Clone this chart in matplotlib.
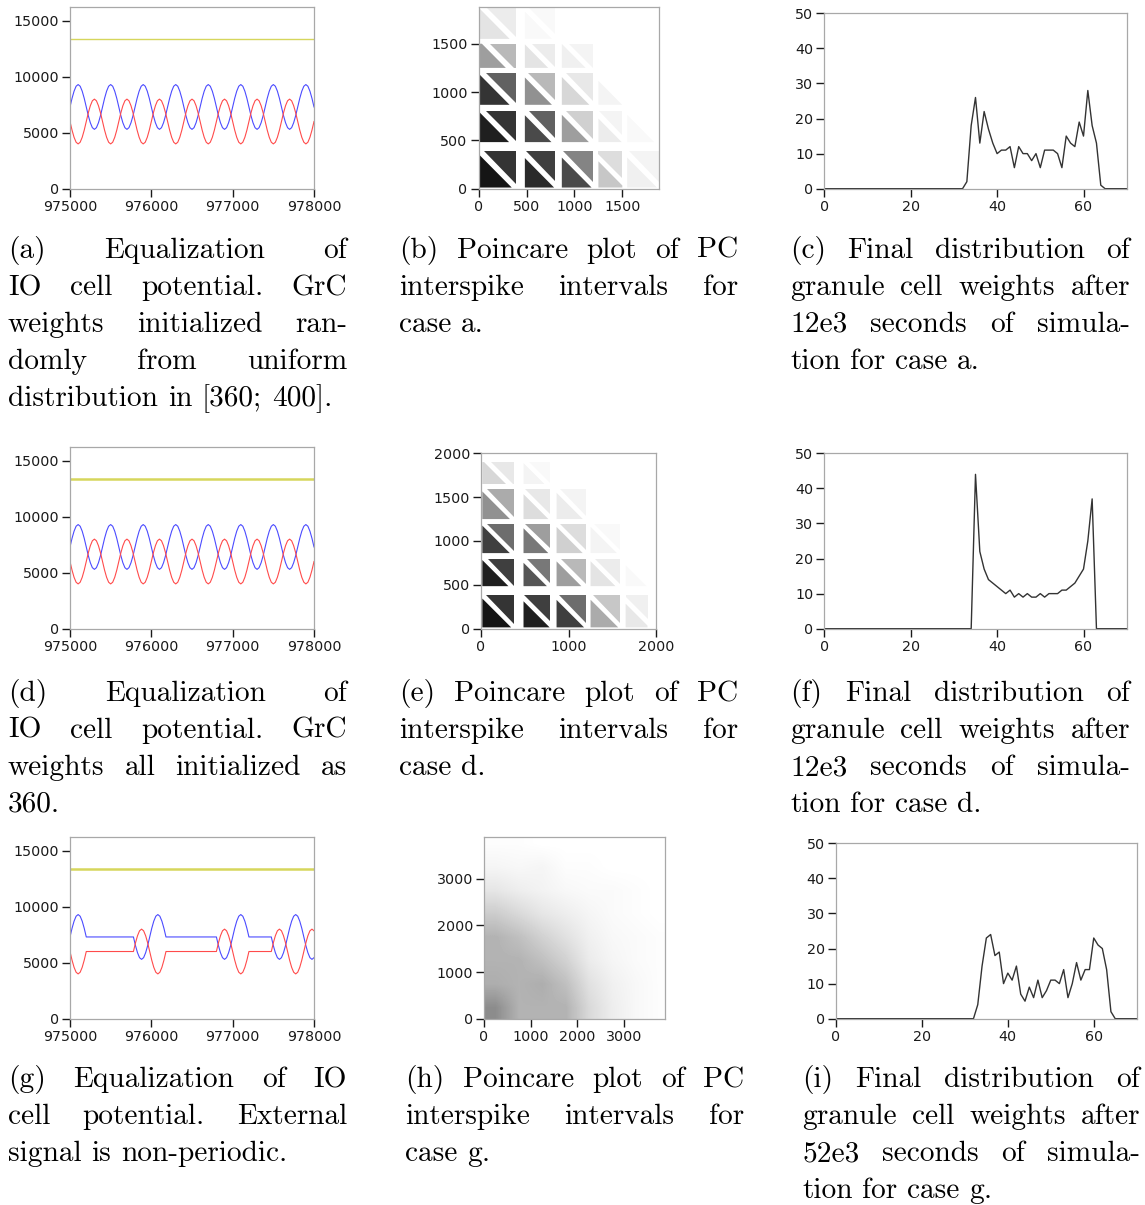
import numpy as np
import matplotlib
matplotlib.use('Agg')
import matplotlib.pyplot as plt
from matplotlib.ticker import FuncFormatter
from matplotlib.patches import Polygon

# ---------------- data ----------------
# IO cell potential, cases a and d (periodic signal), sampled every 25 time units
t_ad = np.arange(975000, 978001, 25)
blue_ad = [
    7300, 8070, 8710, 9150, 9300, 9150, 8710, 8070, 7300, 6530, 5890, 5450, 5300, 5450, 5890, 6530,
    7300, 8070, 8710, 9150, 9300, 9150, 8710, 8070, 7300, 6530, 5890, 5450, 5300, 5450, 5890, 6530,
    7300, 8070, 8710, 9150, 9300, 9150, 8710, 8070, 7300, 6530, 5890, 5450, 5300, 5450, 5890, 6530,
    7300, 8070, 8710, 9150, 9300, 9150, 8710, 8070, 7300, 6530, 5890, 5450, 5300, 5450, 5890, 6530,
    7300, 8070, 8710, 9150, 9300, 9150, 8710, 8070, 7300, 6530, 5890, 5450, 5300, 5450, 5890, 6530,
    7300, 8070, 8710, 9150, 9300, 9150, 8710, 8070, 7300, 6530, 5890, 5450, 5300, 5450, 5890, 6530,
    7300, 8070, 8710, 9150, 9300, 9150, 8710, 8070, 7300, 6530, 5890, 5450, 5300, 5450, 5890, 6530,
    7300, 8070, 8710, 9150, 9300, 9150, 8710, 8070, 7300]
red_ad = [
    6000, 5230, 4590, 4150, 4000, 4150, 4590, 5230, 6000, 6770, 7410, 7850, 8000, 7850, 7410, 6770,
    6000, 5230, 4590, 4150, 4000, 4150, 4590, 5230, 6000, 6770, 7410, 7850, 8000, 7850, 7410, 6770,
    6000, 5230, 4590, 4150, 4000, 4150, 4590, 5230, 6000, 6770, 7410, 7850, 8000, 7850, 7410, 6770,
    6000, 5230, 4590, 4150, 4000, 4150, 4590, 5230, 6000, 6770, 7410, 7850, 8000, 7850, 7410, 6770,
    6000, 5230, 4590, 4150, 4000, 4150, 4590, 5230, 6000, 6770, 7410, 7850, 8000, 7850, 7410, 6770,
    6000, 5230, 4590, 4150, 4000, 4150, 4590, 5230, 6000, 6770, 7410, 7850, 8000, 7850, 7410, 6770,
    6000, 5230, 4590, 4150, 4000, 4150, 4590, 5230, 6000, 6770, 7410, 7850, 8000, 7850, 7410, 6770,
    6000, 5230, 4590, 4150, 4000, 4150, 4590, 5230, 6000]
yellow_level = 13330

# case g (non-periodic signal): oscillation bursts separated by plateaus
t_g = np.concatenate([np.arange(975000, 975201, 25), np.arange(975780, 976181, 25),
                      np.arange(976800, 977201, 25), np.arange(977475, 978001, 25)])
blue_g = [7300, 8070, 8710, 9150, 9300, 9150, 8710, 8070, 7300,
          7300, 6530, 5890, 5450, 5300, 5450, 5890, 6530, 7300, 8070, 8710, 9150, 9300, 9150, 8710, 8070, 7300,
          7300, 6530, 5890, 5450, 5300, 5450, 5890, 6530, 7300, 8070, 8710, 9150, 9300, 9150, 8710, 8070, 7300,
          7300, 6530, 5890, 5450, 5300, 5450, 5890, 6530, 7300, 8070, 8710, 9150, 9300, 9150, 8710, 8070, 7300,
          6530, 5890, 5450, 5300, 5450]
red_g = [6000, 5230, 4590, 4150, 4000, 4150, 4590, 5230, 6000,
         6000, 6770, 7410, 7850, 8000, 7850, 7410, 6770, 6000, 5230, 4590, 4150, 4000, 4150, 4590, 5230, 6000,
         6000, 6770, 7410, 7850, 8000, 7850, 7410, 6770, 6000, 5230, 4590, 4150, 4000, 4150, 4590, 5230, 6000,
         6000, 6770, 7410, 7850, 8000, 7850, 7410, 6770, 6000, 5230, 4590, 4150, 4000, 4150, 4590, 5230, 6000,
         6770, 7410, 7850, 8000, 7850]

# Poincare plots (b, e): ISI clusters and point density (0..1) of the two triangles of each block
b_bands = [(12, 385), (482, 800), (868, 1196), (1250, 1500), (1550, 1880)]
b_lower = [[0.90, 0.80, 0.65, 0.15, 0.03],
           [0.85, 0.65, 0.30, 0.04, 0.01],
           [0.75, 0.35, 0.10, 0.02, 0.00],
           [0.30, 0.06, 0.03, 0.00, 0.00],
           [0.06, 0.01, 0.00, 0.00, 0.00]]
b_upper = [[0.75, 0.70, 0.40, 0.08, 0.02],
           [0.75, 0.55, 0.12, 0.02, 0.00],
           [0.55, 0.20, 0.05, 0.00, 0.00],
           [0.20, 0.04, 0.02, 0.00, 0.00],
           [0.04, 0.01, 0.00, 0.00, 0.00]]
e_bands = [(15, 382), (485, 790), (862, 1199), (1250, 1590), (1650, 1900)]
e_lower = [[0.90, 0.85, 0.70, 0.25, 0.05],
           [0.85, 0.60, 0.30, 0.06, 0.01],
           [0.70, 0.45, 0.12, 0.02, 0.00],
           [0.35, 0.08, 0.04, 0.00, 0.00],
           [0.10, 0.02, 0.00, 0.00, 0.00]]
e_upper = [[0.75, 0.70, 0.50, 0.15, 0.03],
           [0.70, 0.45, 0.20, 0.04, 0.00],
           [0.50, 0.30, 0.08, 0.01, 0.00],
           [0.25, 0.05, 0.02, 0.00, 0.00],
           [0.05, 0.01, 0.00, 0.00, 0.00]]

# Poincare plot (h): density grid, 500-unit cells, rows = ISI_{n+1}, cols = ISI_n
h_density = [[0.45, 0.30, 0.30, 0.30, 0.15, 0.07, 0.03, 0.01],
             [0.32, 0.30, 0.32, 0.25, 0.12, 0.06, 0.03, 0.01],
             [0.30, 0.30, 0.25, 0.18, 0.08, 0.04, 0.02, 0.01],
             [0.30, 0.25, 0.18, 0.12, 0.06, 0.03, 0.02, 0.01],
             [0.20, 0.15, 0.10, 0.07, 0.04, 0.02, 0.01, 0.00],
             [0.10, 0.07, 0.05, 0.03, 0.02, 0.02, 0.01, 0.00],
             [0.04, 0.03, 0.04, 0.01, 0.01, 0.00, 0.00, 0.00],
             [0.01, 0.01, 0.00, 0.00, 0.00, 0.00, 0.00, 0.00]]

# Final distributions of granule cell weights
w_bins = list(range(0, 71))
hist_c = [0] * 32 + [0, 2, 18, 26, 13, 22, 17, 13, 10, 11, 11, 12, 6, 12, 10, 10, 8, 10, 6, 11,
                     11, 11, 10, 6, 15, 13, 12, 19, 15, 28, 18, 13, 1, 0] + [0] * 5
hist_f = [0] * 34 + [0, 44, 22, 17, 14, 13, 12, 11, 10, 11, 9, 10, 9, 10, 9, 9, 10, 9, 10, 10,
                     10, 11, 11, 12, 13, 15, 17, 25, 37, 0] + [0] * 7
hist_i = [0] * 32 + [0, 4, 15, 23, 24, 18, 19, 10, 13, 11, 15, 7, 5, 9, 6, 11, 6, 8, 11, 11,
                     10, 14, 6, 10, 16, 11, 14, 14, 23, 21, 20, 14, 2, 0] + [0] * 5

captions = {
    'a': (8, 347, 258, ["(a) Equalization of", "IO cell potential. GrC", "weights initialized ran-",
                        "domly from uniform", "distribution in [360; 400]."]),
    'b': (399, 738, 258, ["(b) Poincare plot of PC", "interspike intervals for", "case a."]),
    'c': (790, 1130, 258, ["(c) Final distribution of", "granule cell weights after",
                           "12e3 seconds of simula-", "tion for case a."]),
    'd': (8, 347, 701, ["(d) Equalization of", "IO cell potential. GrC", "weights all initialized as", "360."]),
    'e': (399, 738, 701, ["(e) Poincare plot of PC", "interspike intervals for", "case d."]),
    'f': (790, 1130, 701, ["(f) Final distribution of", "granule cell weights after",
                           "12e3 seconds of simula-", "tion for case d."]),
    'g': (8, 347, 1087, ["(g) Equalization of IO", "cell potential. External", "signal is non-periodic."]),
    'h': (405, 744, 1087, ["(h) Poincare plot of PC", "interspike intervals for", "case g."]),
    'i': (802, 1140, 1087, ["(i) Final distribution of", "granule cell weights after",
                            "52e3 seconds of simula-", "tion for case g."]),
}

# ---------------- layout / style ----------------
W, H = 1145, 1205
fig = plt.figure(figsize=(W / 100, H / 100), dpi=100)
renderer = fig.canvas.get_renderer()

BLUE, RED, YELLOW = '#4b4bff', '#ff4b4b', '#d6d65c'
FRAME = '#a8a8a8'


def add_ax(l, t, r, b):
    return fig.add_axes([l / W, 1 - b / H, (r - l) / W, (b - t) / H])


def style(ax, xt, yt, xlim, ylim):
    ax.set_xlim(*xlim)
    ax.set_ylim(*ylim)
    ax.set_xticks(xt)
    ax.set_yticks(yt)
    fmt = FuncFormatter(lambda v, p: f"{int(round(v))}")
    ax.xaxis.set_major_formatter(fmt)
    ax.yaxis.set_major_formatter(fmt)
    for s in ax.spines.values():
        s.set_color(FRAME)
        s.set_linewidth(0.9)
    ax.tick_params(direction='out', length=6, width=1.0, color='#1a1a1a',
                   labelsize=10.3, pad=2, labelcolor='#1a1a1a', top=False, right=False)


def clip_half(poly, s, below):
    out = []
    n = len(poly)
    for k in range(n):
        p, q = poly[k], poly[(k + 1) % n]
        fp, fq = p[0] + p[1] - s, q[0] + q[1] - s
        if not below:
            fp, fq = -fp, -fq
        if fp <= 0:
            out.append(p)
        if fp * fq < 0:
            tt = fp / (fp - fq)
            out.append((p[0] + tt * (q[0] - p[0]), p[1] + tt * (q[1] - p[1])))
    return out


def shade(d):
    # perceived darkness of a cloud of tiny black dots
    return min(1.0, d ** 0.8)


def draw_poincare(ax, bands, lower, upper, gap):
    for j, (ay, by) in enumerate(bands):
        for i, (axx, bx) in enumerate(bands):
            rect = [(axx, ay), (bx, ay), (bx, by), (axx, by)]
            c = (axx + bx + ay + by) / 2.0
            dl, du = lower[j][i], upper[j][i]
            if dl > 0:
                pl = clip_half(rect, c - gap, True)
                if len(pl) >= 3:
                    ax.add_patch(Polygon(pl, closed=True, fc=(0, 0, 0, shade(dl)), ec='none'))
            if du > 0:
                pu = clip_half(rect, c + gap, False)
                if len(pu) >= 3:
                    ax.add_patch(Polygon(pu, closed=True, fc=(0, 0, 0, shade(du)), ec='none'))


# --- row 1 ---
ax = add_ax(70, 7.3, 314, 188.7)
ax.plot([975000, 978000], [yellow_level, yellow_level], color=YELLOW, lw=1.0)
ax.plot(t_ad, blue_ad, color=BLUE, lw=0.8)
ax.plot(t_ad, red_ad, color=RED, lw=0.8)
style(ax, [975000, 976000, 977000, 978000], [0, 5000, 10000, 15000], (975000, 978000), (0, 16200))

ax = add_ax(478.7, 7.3, 659.3, 188.7)
draw_poincare(ax, b_bands, b_lower, b_upper, 40)
style(ax, [0, 500, 1000, 1500], [0, 500, 1000, 1500], (0, 1886), (0, 1877))

ax = add_ax(824.3, 13.3, 1126.7, 188.7)
ax.plot(w_bins, hist_c, color='#333333', lw=1.0)
style(ax, [0, 20, 40, 60], [0, 10, 20, 30, 40, 50], (0, 70), (0, 50))

# --- row 2 ---
ax = add_ax(70, 447.3, 314, 628.7)
ax.plot([975000, 978000], [yellow_level, yellow_level], color=YELLOW, lw=1.8)
ax.plot(t_ad, blue_ad, color=BLUE, lw=0.8)
ax.plot(t_ad, red_ad, color=RED, lw=0.8)
style(ax, [975000, 976000, 977000, 978000], [0, 5000, 10000, 15000], (975000, 978000), (0, 16200))

ax = add_ax(481, 453.3, 656.3, 628.7)
draw_poincare(ax, e_bands, e_lower, e_upper, 38)
style(ax, [0, 1000, 2000], [0, 500, 1000, 1500, 2000], (0, 2000), (0, 2000))

ax = add_ax(824.3, 453.3, 1126.7, 628.7)
ax.plot(w_bins, hist_f, color='#333333', lw=1.0)
style(ax, [0, 20, 40, 60], [0, 10, 20, 30, 40, 50], (0, 70), (0, 50))

# --- row 3 ---
ax = add_ax(70, 837.3, 314, 1018.7)
ax.plot([975000, 978000], [yellow_level, yellow_level], color=YELLOW, lw=1.8)
ax.plot(t_g, blue_g, color=BLUE, lw=0.8)
ax.plot(t_g, red_g, color=RED, lw=0.8)
style(ax, [975000, 976000, 977000, 978000], [0, 5000, 10000, 15000], (975000, 978000), (0, 16200))

ax = add_ax(484, 837.3, 665.3, 1018.7)
ax.imshow(np.array(h_density), extent=[0, 4000, 0, 4000], origin='lower', cmap='gray_r',
          vmin=0, vmax=1, interpolation='bilinear', aspect='auto')
style(ax, [0, 1000, 2000, 3000], [0, 1000, 2000, 3000], (0, 3886), (0, 3886))

ax = add_ax(836, 843.3, 1136.7, 1018.7)
ax.plot(w_bins, hist_i, color='#333333', lw=1.0)
style(ax, [0, 20, 40, 60], [0, 10, 20, 30, 40, 50], (0, 70), (0, 50))

# ---------------- captions (justified) ----------------
CAPFONT = 'cmr10'
LS = 37


def word_width(w, fs):
    t = fig.text(0, 0, w, fontsize=fs, family=CAPFONT)
    wd = t.get_window_extent(renderer).width
    t.remove()
    return wd


ref_words = ["distribution", "in", "[360;", "400]."]
s15 = sum(word_width(w, 15) for w in ref_words)
FS = 325.0 / (s15 / 15.0 + 3 * 0.333 * 100 / 72.0)
SPACE = 0.333 * FS * 100 / 72.0

for key, (L, R, base, lines) in captions.items():
    for k, line in enumerate(lines):
        y = 1 - (base + k * LS) / H
        words = line.split()
        texts = [fig.text(0, y, w, fontsize=FS, family=CAPFONT, va='baseline', ha='left', color='black')
                 for w in words]
        widths = [t.get_window_extent(renderer).width for t in texts]
        if k == len(lines) - 1 or len(words) == 1:
            gap = SPACE
        else:
            gap = (R - L - sum(widths)) / (len(words) - 1)
        x = L
        for t, wd in zip(texts, widths):
            t.set_x(x / W)
            x += wd + gap

fig.savefig('out.png', dpi=100)
